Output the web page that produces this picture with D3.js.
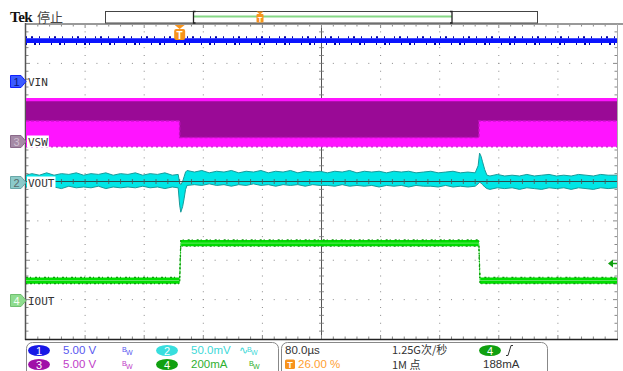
<!DOCTYPE html>
<html>
<head>
<meta charset="utf-8">
<script src="https://cdn.jsdelivr.net/npm/d3@7"></script>
<style>
  body { margin: 0; background: #fff; }
  svg { display: block; }
</style>
</head>
<body>
<div id="chart"></div>
<script>
const width = 623, height = 371;
const plot = { left: 26, right: 617, top: 24, bottom: 339 };

// horizontal: 80 µs/div, trigger at 26 % of record
const timeDomain = [-208, 592];
const triggerPct = "26.00 %";

// channel setup (volts/div etc, vertical position in divisions)
const chLabels = ["VIN", "VOUT", "VSW", "IOUT"];
const chScale = [5, 50, 5, 200];         // V, mV, V, mA per div
const chPos = [2.55, 0, 1.03, -3];       // divisions from center
const chColors = ["#0a14ff", "#00e6e6", "#ff10ff", "#00dd00"];
const chReadout = ["5.00 V", "50.0mV", "5.00 V", "200mA"];

// VIN trace: [t µs, low V, high V]
const vinBand = [[-208, 4.85, 5.45], [592, 4.85, 5.45]];

// VSW persistence: outer envelope and the dense (dark) part, [t, low V, high V]
const vswOuter = [[-208, -0.75, 5.45], [592, -0.75, 5.45]];
const vswDark = [[-208, 2.55, 5.05], [0, 2.55, 5.05], [0, 0.45, 5.05], [405, 0.45, 5.05],
                 [405, 2.55, 5.05], [592, 2.55, 5.05]];

// VOUT (AC, mV): [t, low, high]
const voutBand = [
  [-208,-7,8],[-200,-8,10],[-190,-6,8],[-180,-8,11],[-170,-7,8],[-160,-9,10],[-150,-6,9],
  [-140,-8,11],[-130,-7,8],[-120,-8,10],[-110,-6,9],[-100,-9,11],[-90,-7,8],[-80,-8,10],
  [-70,-7,9],[-60,-8,11],[-50,-6,8],[-40,-8,10],[-30,-7,9],[-20,-9,11],[-10,-7,8],[-2,-8,9],
  [0,-30,-2],[1.5,-39,-4],[4,-32,0],[6,-22,6],[8,-10,12],[10,-5,14],
  [20,-4,12],[30,-5,14],[40,-3,11],[50,-5,13],[60,-4,12],[70,-6,14],[80,-4,11],[90,-5,13],
  [100,-3,12],[110,-5,14],[120,-4,11],[130,-6,13],[140,-4,12],[150,-5,14],[160,-4,11],
  [170,-6,13],[180,-4,12],[190,-5,13],[200,-5,11],[210,-6,13],[220,-4,12],[230,-6,14],
  [240,-5,11],[250,-6,13],[260,-5,12],[270,-7,13],[280,-5,11],[290,-6,13],[300,-5,12],
  [310,-7,13],[320,-5,11],[330,-6,12],[340,-6,13],[350,-7,11],[360,-5,12],[370,-7,13],
  [380,-6,11],[390,-7,12],[400,-6,11],
  [404,-3,20],[406,-1,36],[408,-2,32],[410,-4,25],[413,-7,15],[416,-9,8],
  [420,-10,7],[430,-8,9],[440,-9,7],[450,-8,8],[460,-10,7],[470,-8,9],[480,-9,7],
  [490,-10,8],[500,-8,9],[510,-9,7],[520,-8,8],[530,-10,7],[540,-8,9],[550,-9,8],
  [560,-10,7],[570,-8,9],[580,-9,8],[592,-8,8]
];

// IOUT (mA): [t, level]
const ioutLevel = [[-208, 97], [0, 97], [1.5, 287], [405, 287], [406.5, 97], [592, 97]];
const ioutNoise = 16;
const trigLevel = 188; // mA on ch4

const svg = d3.select("#chart")
  .append("svg")
  .attr("width", width)
  .attr("height", height)
  .attr("viewBox", [0, 0, width, height]);

const x = d3.scaleLinear().domain(timeDomain).range([plot.left, plot.right]);
const xDiv = d3.scaleLinear().domain([0, 10]).range([plot.left, plot.right]);
const yDiv = d3.scaleLinear().domain([-4, 4]).range([plot.bottom, plot.top]);
const yCh = (ch, v) => yDiv(chPos[ch] + v / chScale[ch]);

const sans = "'Liberation Sans', Arial, sans-serif";
const cjk = "'Noto Sans CJK SC', sans-serif";

// ---------- graticule ----------
const grid = svg.append("g");
const minorX = d3.range(1, 50), minorY = d3.range(1, 40);
[1, 2, 3, 4, 6, 7, 8, 9].forEach(i => {
  grid.selectAll(null).data(minorY).join("rect")
    .attr("x", xDiv(i) - 0.5).attr("y", k => yDiv(-4 + k / 5) - 0.5)
    .attr("width", 1).attr("height", 1).attr("fill", "#8a8a8a");
});
[-3, -2, -1, 1, 2, 3].forEach(j => {
  grid.selectAll(null).data(minorX).join("rect")
    .attr("x", k => xDiv(k / 5) - 0.5).attr("y", yDiv(j) - 0.5)
    .attr("width", 1).attr("height", 1).attr("fill", "#8a8a8a");
});
// center crosshair with minor ticks
grid.append("line").attr("x1", xDiv(5)).attr("x2", xDiv(5))
  .attr("y1", plot.top).attr("y2", plot.bottom).attr("stroke", "#555").attr("stroke-width", 1);
grid.selectAll(null).data(minorY).join("line")
  .attr("x1", xDiv(5) - 2.5).attr("x2", xDiv(5) + 2.5)
  .attr("y1", k => yDiv(-4 + k / 5)).attr("y2", k => yDiv(-4 + k / 5))
  .attr("stroke", "#777").attr("stroke-width", 0.8);
// edge ticks
grid.selectAll(null).data(minorX).join("line")
  .attr("x1", k => xDiv(k / 5)).attr("x2", k => xDiv(k / 5))
  .attr("y1", plot.top).attr("y2", k => plot.top + (k % 5 ? 2.5 : 4))
  .attr("stroke", "#888");
grid.selectAll(null).data(minorX).join("line")
  .attr("x1", k => xDiv(k / 5)).attr("x2", k => xDiv(k / 5))
  .attr("y1", plot.bottom).attr("y2", k => plot.bottom - (k % 5 ? 2.5 : 4))
  .attr("stroke", "#888");
grid.selectAll(null).data(minorY).join("line")
  .attr("y1", k => yDiv(-4 + k / 5)).attr("y2", k => yDiv(-4 + k / 5))
  .attr("x1", plot.left).attr("x2", k => plot.left + (k % 5 ? 2.5 : 4))
  .attr("stroke", "#888");
grid.selectAll(null).data(minorY).join("line")
  .attr("y1", k => yDiv(-4 + k / 5)).attr("y2", k => yDiv(-4 + k / 5))
  .attr("x1", plot.right).attr("x2", k => plot.right - (k % 5 ? 2.5 : 4))
  .attr("stroke", "#888");

// borders
svg.append("line").attr("x1", plot.left).attr("x2", width).attr("y1", plot.top).attr("y2", plot.top)
  .attr("stroke", "#999").attr("stroke-width", 2);
svg.append("line").attr("x1", plot.right + 0.5).attr("x2", plot.right + 0.5).attr("y1", plot.top).attr("y2", plot.bottom)
  .attr("stroke", "#aaa").attr("stroke-width", 1);
svg.append("line").attr("x1", plot.left - 0.5).attr("x2", plot.left - 0.5).attr("y1", plot.top - 1).attr("y2", plot.bottom + 1)
  .attr("stroke", "#555").attr("stroke-width", 1.5);
svg.append("line").attr("x1", plot.left - 1).attr("x2", plot.right + 1).attr("y1", plot.bottom + 0.5).attr("y2", plot.bottom + 0.5)
  .attr("stroke", "#222").attr("stroke-width", 1.5);

// ---------- traces ----------
const band = ch => d3.area().x(d => x(d[0])).y0(d => yCh(ch, d[1])).y1(d => yCh(ch, d[2]));
const edgeHi = ch => d3.line().x(d => x(d[0])).y(d => yCh(ch, d[2]));
const edgeLo = ch => d3.line().x(d => x(d[0])).y(d => yCh(ch, d[1]));

// VSW (ch3 -> index 2)
svg.append("path").datum(vswOuter).attr("d", band(2)).attr("fill", "#ff14ff");
svg.append("path").datum(vswDark).attr("d", band(2)).attr("fill", "#9a0a96");
svg.append("path").datum(vswDark).attr("d", edgeLo(2)).attr("fill", "none")
  .attr("stroke", "#c010c0").attr("stroke-width", 1.5).attr("stroke-dasharray", "3,2");
svg.append("path").datum(vswOuter).attr("d", edgeLo(2)).attr("fill", "none")
  .attr("stroke", "#e020e0").attr("stroke-width", 1.5).attr("stroke-dasharray", "2,3");

// VIN
svg.append("path").datum(vinBand).attr("d", band(0)).attr("fill", chColors[0]);
svg.append("path").datum(vinBand).attr("d", edgeHi(0)).attr("fill", "none")
  .attr("stroke", "#0000a8").attr("stroke-width", 2).attr("stroke-dasharray", "1,4,2,6,1,9").attr("transform", "translate(0,-1)");
svg.append("path").datum(vinBand).attr("d", edgeLo(0)).attr("fill", "none")
  .attr("stroke", "#0000a8").attr("stroke-width", 2).attr("stroke-dasharray", "1,7,2,3,1,11").attr("transform", "translate(0,1)");

// VOUT
svg.append("path").datum(voutBand).attr("d", band(1)).attr("fill", chColors[1]);
svg.append("path").datum(voutBand).attr("d", edgeHi(1)).attr("fill", "none")
  .attr("stroke", "#1a9a9a").attr("stroke-width", 1);
svg.append("path").datum(voutBand).attr("d", edgeLo(1)).attr("fill", "none")
  .attr("stroke", "#1a9a9a").attr("stroke-width", 1);
// center horizontal graticule line shows over the trace
svg.append("line").attr("x1", plot.left).attr("x2", plot.right).attr("y1", yDiv(0)).attr("y2", yDiv(0))
  .attr("stroke", "#333").attr("stroke-width", 1).attr("opacity", 0.85);
svg.selectAll(null).data(minorX).join("line")
  .attr("x1", k => xDiv(k / 5)).attr("x2", k => xDiv(k / 5))
  .attr("y1", yDiv(0) - 2.5).attr("y2", yDiv(0) + 2.5)
  .attr("stroke", "#555").attr("stroke-width", 0.8);

// IOUT
const ioutBand = ioutLevel.map(d => [d[0], d[1] - ioutNoise, d[1] + ioutNoise]);
svg.append("path").datum(ioutBand).attr("d", band(3)).attr("fill", chColors[3]);
svg.append("path").datum(ioutLevel).attr("d", d3.line().x(d => x(d[0])).y(d => yCh(3, d[1])))
  .attr("fill", "none").attr("stroke", "#5fe85f").attr("stroke-width", 1);
svg.append("path").datum(ioutBand).attr("d", edgeHi(3)).attr("fill", "none")
  .attr("stroke", "#119911").attr("stroke-width", 1.2).attr("stroke-dasharray", "2,2,1,4");
svg.append("path").datum(ioutBand).attr("d", edgeLo(3)).attr("fill", "none")
  .attr("stroke", "#119911").attr("stroke-width", 1.2).attr("stroke-dasharray", "1,3,2,2");

// ---------- channel markers & labels ----------
const markerFill = ["#3c5cff", "#8ccaca", "#a58aa5", "#8edc8e"];
const markerStroke = ["#1020ff", "#6aa8a8", "#8a6a8a", "#70c070"];
const markerText = ["#0a1a80", "#5a6a6a", "#d0c0d0", "#f4fff4"];
const markerNum = ["1", "2", "3", "4"];
const labelBg = [false, true, true, false];
chLabels.forEach((lab, i) => {
  const cy = Math.round(yDiv(chPos[i])) + 0.5;
  const g = svg.append("g");
  g.append("path")
    .attr("d", `M10.5,${cy - 6}H21L26,${cy}L21,${cy + 6}H10.5Z`)
    .attr("fill", markerFill[i]).attr("stroke", markerStroke[i]).attr("stroke-width", 1);
  g.append("text").attr("x", 16.5).attr("y", cy + 4)
    .attr("text-anchor", "middle").attr("font-family", sans).attr("font-size", 11)
    .attr("fill", markerText[i]).text(markerNum[i]);
  const t = g.append("text").attr("x", 28).attr("y", cy + 4)
    .attr("font-family", "'DejaVu Sans Mono', monospace").attr("font-size", 11)
    .attr("fill", "#333").text(lab);
  if (labelBg[i]) {
    const w = t.node().getComputedTextLength();
    g.insert("rect", "text:last-child").attr("x", 27).attr("y", cy - 6).attr("width", w + 2).attr("height", 12).attr("fill", "#fff");
  }
});

// trigger position marker
const tx = x(0);
svg.append("path").attr("d", `M${tx - 5},${plot.top + 1}H${tx + 5}L${tx},${plot.top + 5}Z`).attr("fill", "#f7941d");
svg.append("rect").attr("x", tx - 5.5).attr("y", plot.top + 5).attr("width", 11).attr("height", 11).attr("rx", 2)
  .attr("fill", "#f7941d");
svg.append("text").attr("x", tx).attr("y", plot.top + 14.5).attr("text-anchor", "middle")
  .attr("font-family", sans).attr("font-weight", "bold").attr("font-size", 10).attr("fill", "#fff").text("T");

// trigger level arrow (ch4)
const ty = Math.round(yCh(3, trigLevel)) + 0.5;
svg.append("path").attr("d", `M${plot.right - 9},${ty}L${plot.right - 4},${ty - 4}V${ty + 4}Z`).attr("fill", "#10a010");
svg.append("line").attr("x1", plot.right - 5).attr("x2", plot.right).attr("y1", ty).attr("y2", ty)
  .attr("stroke", "#10a010").attr("stroke-width", 1.5);

// ---------- top bar ----------
svg.append("text").attr("x", 10).attr("y", 22)
  .attr("font-family", "'Liberation Serif', serif").attr("font-weight", "bold").attr("font-size", 15)
  .attr("fill", "#111").attr("letter-spacing", -0.5).text("Tek");
svg.append("text").attr("x", 37).attr("y", 22)
  .attr("font-family", cjk).attr("font-size", 13)
  .attr("fill", "#444").text("停止");

svg.append("rect").attr("x", 105.5).attr("y", 11.5).attr("width", 432).attr("height", 11.5)
  .attr("fill", "#fff").attr("stroke", "#444").attr("stroke-width", 1);
svg.append("line").attr("x1", 194).attr("x2", 452).attr("y1", 16.5).attr("y2", 16.5)
  .attr("stroke", "#86d886").attr("stroke-width", 2);
[[193.5, 1], [452, -1]].forEach(([bx, dir]) => {
  svg.append("path").attr("d", `M${bx + 2 * dir},11.5H${bx}V23H${bx + 2 * dir}`)
    .attr("fill", "none").attr("stroke", "#222").attr("stroke-width", 1.3);
});
svg.append("path").attr("d", "M256.5,11.5H263.5L260,14.5Z").attr("fill", "#f7941d");
svg.append("rect").attr("x", 256.5).attr("y", 14).attr("width", 7).attr("height", 8.5).attr("rx", 1).attr("fill", "#f7941d");
svg.append("text").attr("x", 260).attr("y", 21.5).attr("text-anchor", "middle")
  .attr("font-family", sans).attr("font-size", 7.5).attr("font-weight", "bold").attr("fill", "#fff").text("T");

// ---------- readout panels ----------
const panels = svg.append("g");
panels.append("rect").attr("x", 26.5).attr("y", 342.5).attr("width", 252).attr("height", 40).attr("rx", 6)
  .attr("fill", "#fff").attr("stroke", "#888");
panels.append("rect").attr("x", 281.5).attr("y", 342.5).attr("width", 266).attr("height", 40).attr("rx", 6)
  .attr("fill", "#fff").attr("stroke", "#888");

const badgeFill = ["#1818e6", "#38dede", "#a010a8", "#10a010"];
const readColor = ["#5858f0", "#40d8d8", "#c040c8", "#30b030"];
// order in panel: ch1, ch2 top row; ch3, ch4 bottom row
const badgePos = [[39, 350.5], [167, 350.5], [39, 364.5], [167, 364.5]];
const badge = (cx, cy, fill, num) => {
  panels.append("ellipse").attr("cx", cx).attr("cy", cy).attr("rx", 11).attr("ry", 5.5).attr("fill", fill);
  panels.append("text").attr("x", cx).attr("y", cy + 4).attr("text-anchor", "middle")
    .attr("font-family", sans).attr("font-size", 11).attr("fill", "#fff").text(num);
};
const bw = (bx, by, col) => {
  panels.append("text").attr("x", bx).attr("y", by - 2.5).attr("font-family", sans).attr("font-size", 7).attr("fill", col).text("B");
  panels.append("text").attr("x", bx + 4).attr("y", by + 1).attr("font-family", sans).attr("font-size", 7).attr("fill", col).text("W");
};
[0, 1, 2, 3].forEach(i => {
  const [cx, cy] = badgePos[i];
  badge(cx, cy, badgeFill[i], markerNum[i]);
  panels.append("text").attr("x", cx + 24).attr("y", cy + 3.5)
    .attr("font-family", sans).attr("font-size", 11.5).attr("fill", readColor[i]).text(chReadout[i]);
});
bw(122, 354, readColor[0]);
bw(122, 368, readColor[2]);
bw(249, 368, readColor[3]);
panels.append("text").attr("x", 239).attr("y", 354).attr("font-family", sans).attr("font-size", 11)
  .attr("fill", readColor[1]).text("∿");
bw(247, 354, readColor[1]);

// horizontal / acquisition
const hColor = "#333";
panels.append("text").attr("x", 285).attr("y", 354).attr("font-family", sans).attr("font-size", 11.5).attr("fill", hColor).text("80.0µs");
panels.append("text").attr("x", 392).attr("y", 353.5).attr("font-family", cjk).attr("font-size", 11).attr("fill", hColor).text("1.25G次/秒");
panels.append("text").attr("x", 392).attr("y", 368.5).attr("font-family", cjk).attr("font-size", 11).attr("fill", hColor).text("1M 点");
panels.append("rect").attr("x", 285).attr("y", 359.5).attr("width", 10).attr("height", 9.5).attr("rx", 1.5).attr("fill", "#f7941d");
panels.append("text").attr("x", 290).attr("y", 367.5).attr("text-anchor", "middle").attr("font-family", sans)
  .attr("font-weight", "bold").attr("font-size", 9).attr("fill", "#fff").text("T");
panels.append("text").attr("x", 298).attr("y", 368).attr("font-family", sans).attr("font-size", 11.5).attr("fill", "#ffa030").text(triggerPct);
badge(490, 350.5, badgeFill[3], "4");
panels.append("path").attr("d", "M506,355.5H508L511,345.5H513").attr("fill", "none").attr("stroke", "#333").attr("stroke-width", 1);
panels.append("text").attr("x", 483).attr("y", 368).attr("font-family", sans).attr("font-size", 11.5).attr("fill", hColor).text(trigLevel + "mA");
</script>
</body>
</html>
